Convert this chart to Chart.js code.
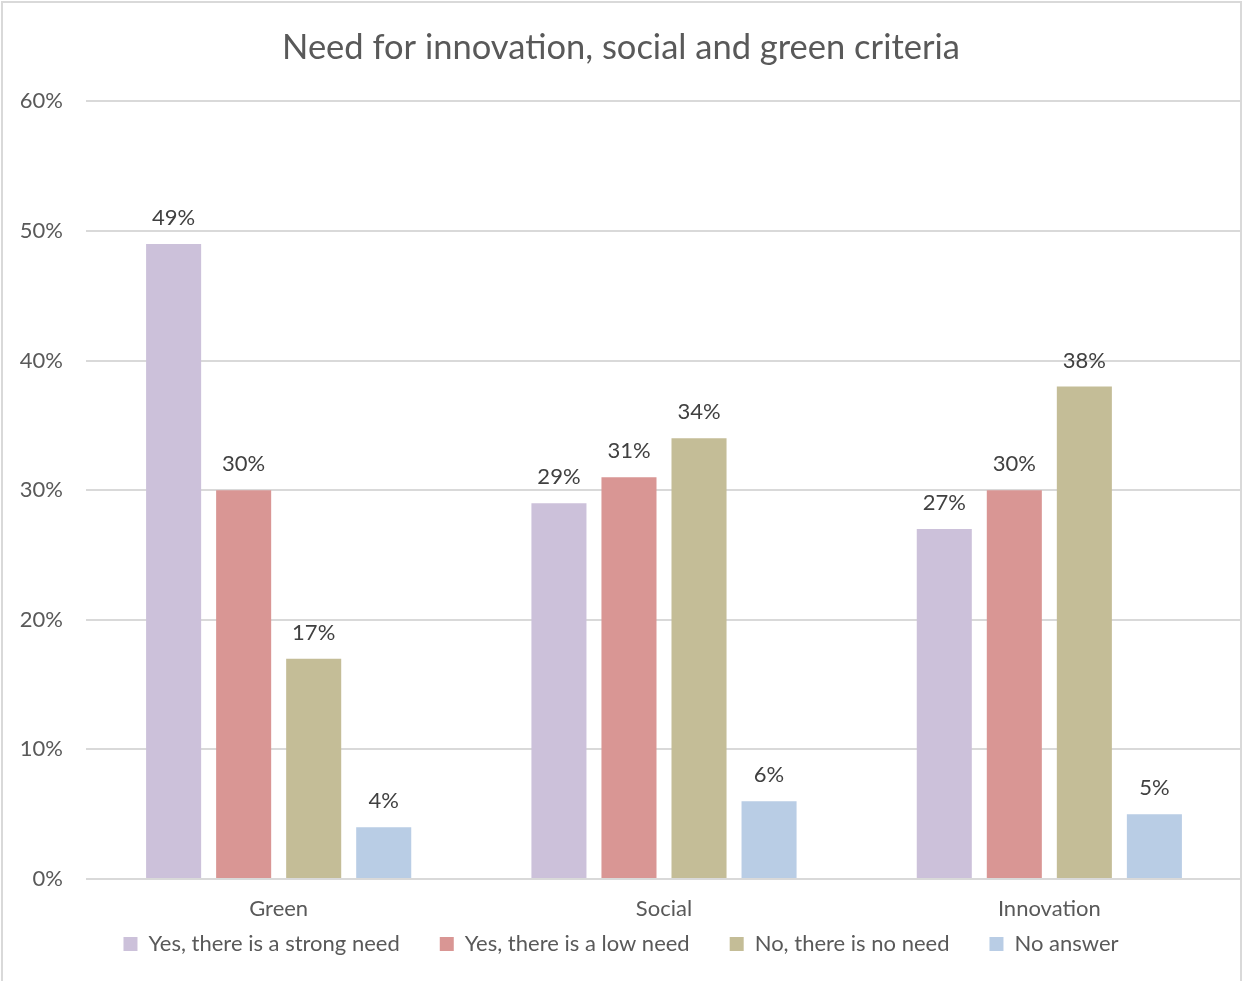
<!DOCTYPE html>
<html>
<head>
<meta charset="utf-8">
<script src="https://cdn.jsdelivr.net/npm/chart.js@4"></script>
<style>
  body { margin: 0; background: #fff; }
  #wrap { width: 1242px; height: 981px; position: relative; }
</style>
</head>
<body>
<div id="wrap"><canvas id="chart" width="1242" height="981"></canvas></div>
<script>
const categories = ["Green", "Social", "Innovation"];
const seriesNames = ["Yes, there is a strong need", "Yes, there is a low need", "No, there is no need", "No answer"];
const strongNeed = [49, 29, 27];
const lowNeed = [30, 31, 30];
const noNeed = [17, 34, 38];
const noAnswer = [4, 6, 5];
const yTicks = [0, 10, 20, 30, 40, 50, 60];
const colors = ["#CCC1DA", "#D99694", "#C4BD97", "#B9CDE5"];

const FONT = "Lato, 'Open Sans', sans-serif";
const TEXT = "#595959";

// value labels above bars
const barLabels = {
    id: "barLabels",
    afterDatasetsDraw(chart) {
        const ctx = chart.ctx;
        ctx.save();
        ctx.font = "22px " + FONT;
        ctx.fillStyle = "#404040";
        ctx.textAlign = "center";
        ctx.textBaseline = "bottom";
        chart.data.datasets.forEach((ds, i) => {
            chart.getDatasetMeta(i).data.forEach((bar, j) => {
                ctx.fillText(ds.data[j] + "%", bar.x, bar.y - 15);
            });
        });
        ctx.restore();
    }
};

// light frame round the chart
const frame = {
    id: "frame",
    afterDraw(chart) {
        const ctx = chart.ctx;
        ctx.save();
        ctx.strokeStyle = "#D9D9D9";
        ctx.lineWidth = 2;
        ctx.beginPath();
        ctx.moveTo(2, chart.height);
        ctx.lineTo(2, 2);
        ctx.lineTo(chart.width - 1, 2);
        ctx.lineTo(chart.width - 1, chart.height);
        ctx.stroke();
        ctx.restore();
    }
};

const data = {
    labels: categories,
    datasets: [strongNeed, lowNeed, noNeed, noAnswer].map((vals, i) => ({
        label: seriesNames[i],
        data: vals,
        backgroundColor: colors[i],
        categoryPercentage: 0.727,
        barPercentage: 0.786
    }))
};

new Chart(document.getElementById("chart"), {
    type: "bar",
    data: data,
    options: {
        responsive: false,
        animation: false,
        layout: { padding: { left: 0, right: 0, top: 0, bottom: 16 } },
        plugins: {
            title: {
                display: true,
                text: "Need for innovation, social and green criteria",
                color: TEXT,
                font: { family: FONT, size: 34.5, weight: "normal" },
                padding: { top: 27, bottom: 33 }
            },
            legend: {
                position: "bottom",
                labels: {
                    color: TEXT,
                    font: { family: FONT, size: 22 },
                    boxWidth: 14,
                    boxHeight: 14,
                    padding: 40
                }
            },
            tooltip: { enabled: false }
        },
        scales: {
            x: {
                grid: { display: false, drawTicks: false },
                border: { display: false },
                // mirror keeps the labels from being clipped to the short axis box
                ticks: { color: TEXT, font: { family: FONT, size: 22 }, padding: -43, mirror: true },
                afterFit(scale) { scale.height = 14; }
            },
            y: {
                min: 0,
                max: 60,
                afterBuildTicks(scale) { scale.ticks = yTicks.map(v => ({ value: v })); },
                grid: { color: "#D9D9D9", lineWidth: 2, drawTicks: false },
                border: { display: false },
                ticks: {
                    color: TEXT,
                    font: { family: FONT, size: 22 },
                    padding: 23,
                    callback: v => v + "%"
                },
                afterFit(scale) { scale.width = 86; }
            }
        }
    },
    plugins: [barLabels, frame]
});
</script>
</body>
</html>
